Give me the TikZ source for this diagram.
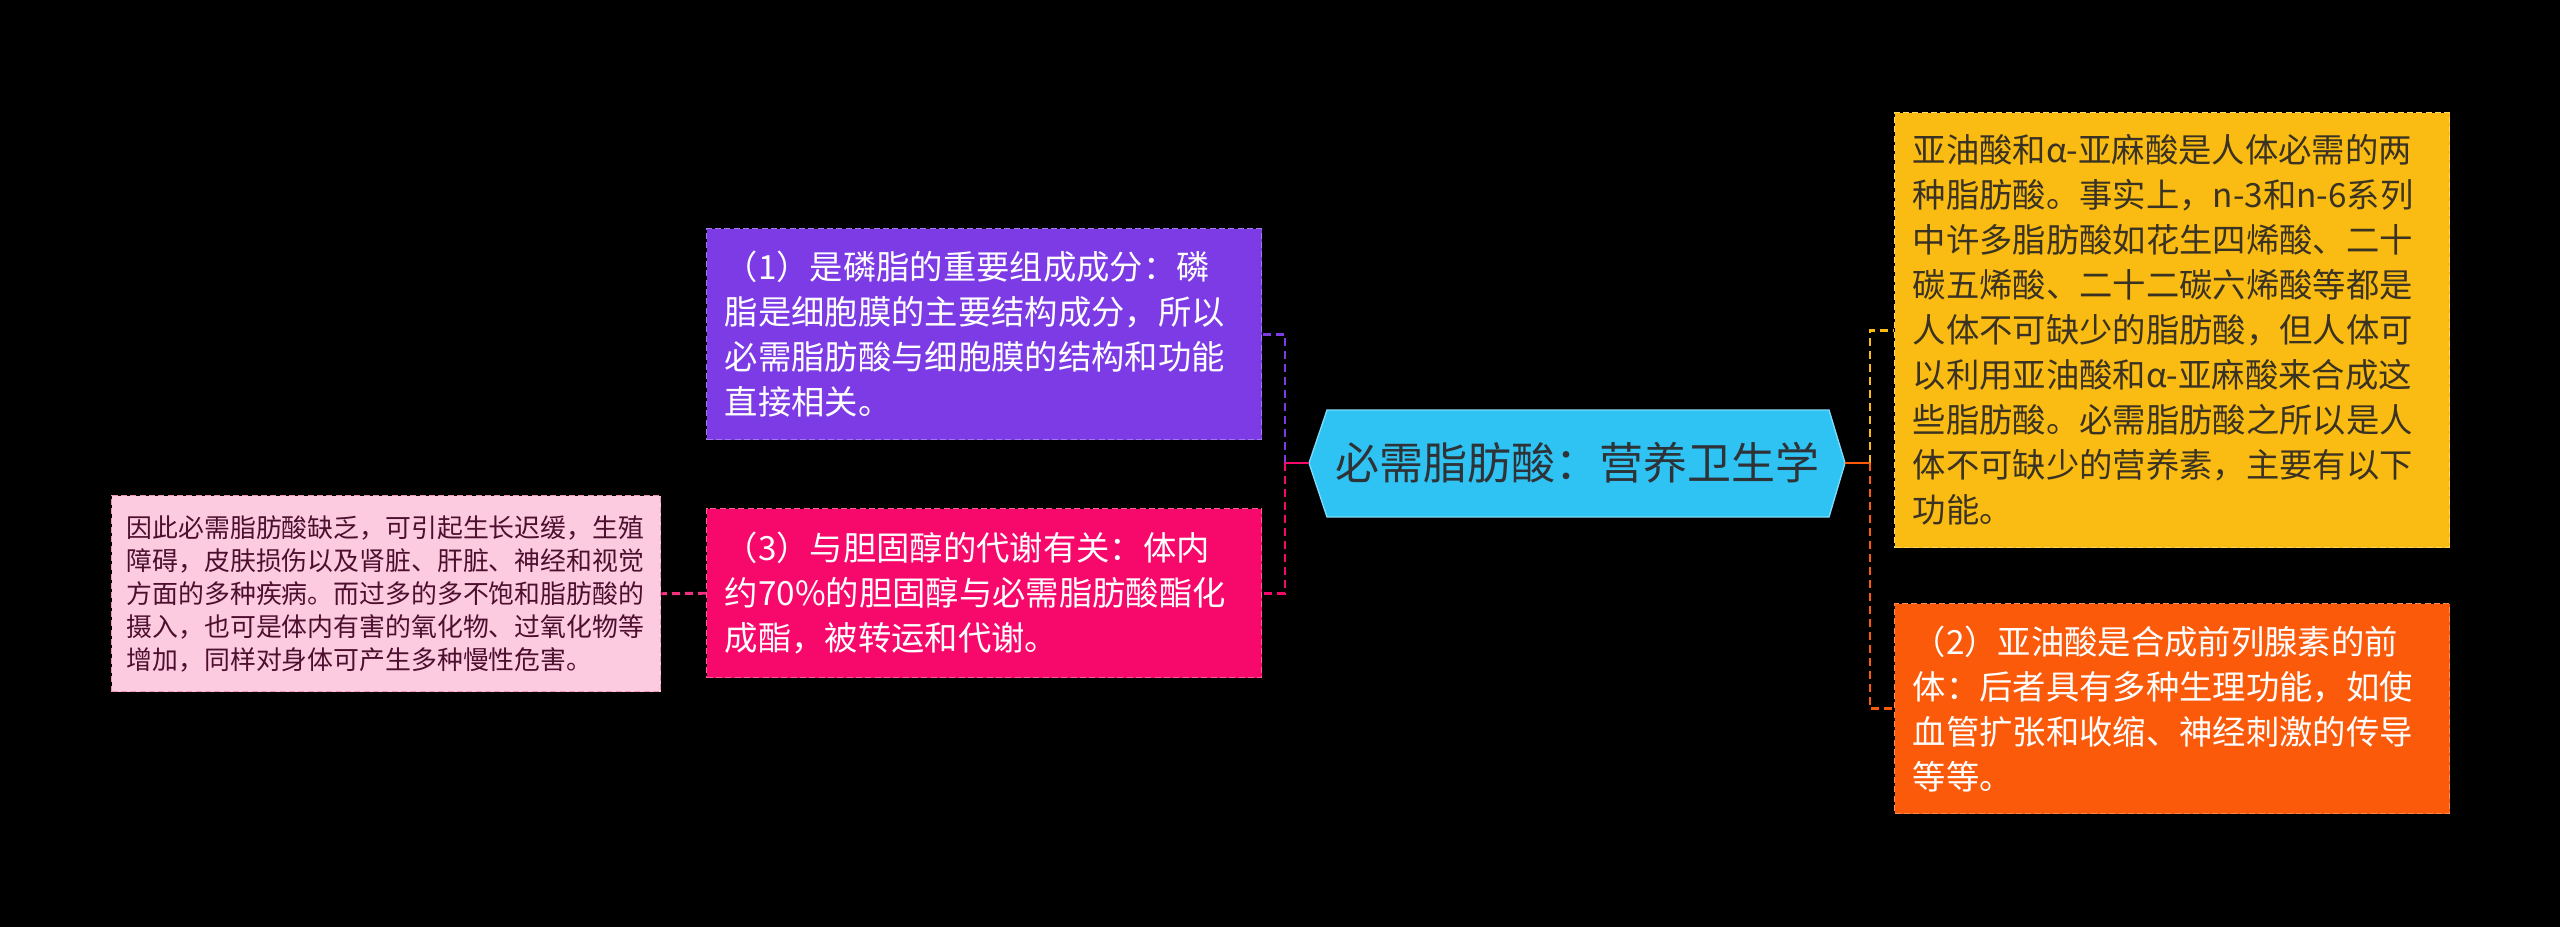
\documentclass[tikz,border=0pt]{standalone}
\usepackage{fontspec}
\setmainfont{Noto Sans CJK SC}
\definecolor{hexc}{HTML}{2EC3F3}
\definecolor{hexb}{HTML}{7FDBF8}
\definecolor{hext}{HTML}{2E3338}
\definecolor{purc}{HTML}{7D3BE6}
\definecolor{purb}{HTML}{A577F0}
\definecolor{pinc}{HTML}{F7096C}
\definecolor{pinb}{HTML}{FF5C98}
\definecolor{yelc}{HTML}{FABC12}
\definecolor{yelb}{HTML}{FFD764}
\definecolor{yelt}{HTML}{3A3222}
\definecolor{orac}{HTML}{FB5A0B}
\definecolor{orab}{HTML}{FF8C55}
\definecolor{lpc}{HTML}{FDCBE0}
\definecolor{lpb}{HTML}{EC94B8}
\definecolor{lpt}{HTML}{4D0F2E}
\definecolor{lpl}{HTML}{F2327E}
\begin{document}
\begin{tikzpicture}[x=0.75pt,y=-0.75pt,
  box/.style={draw, line width=1.1pt, dash pattern=on 4.5pt off 2.5pt,
    anchor=north west, align=left, inner xsep=13.5pt, inner ysep=0pt,
    font=\fontsize{25pt}{33.75pt}\selectfont},
  smallbox/.style={box, inner xsep=11.25pt,
    font=\fontsize{19.4pt}{24.75pt}\selectfont},
  conn/.style={line width=2.2pt, dash pattern=on 6pt off 3.75pt},
  stub/.style={line width=2.2pt}]
\useasboundingbox (0,0) rectangle (2560,927);
\fill[black] (0,0) rectangle (2560,927);

% centre hexagon
\coordinate (hexL) at (1309,463);
\coordinate (hexR) at (1845,463);
\coordinate (jL) at (1285,463);
\coordinate (jR) at (1870,463);
\filldraw[fill=hexc, draw=hexb, line width=1pt]
  (hexL) -- (1327,410) -- (1829,410) -- (hexR) -- (1829,517) -- (1327,517) -- cycle;
\node[text=hext, font=\fontsize{33pt}{40pt}\selectfont, inner sep=0pt] (hex) at (1577,463) {必需脂肪酸：营养卫生学};

% boxes
\node[box, fill=purc, draw=purb, text=white, text width=389.25pt, minimum height=158.25pt] (pur) at (706,228)
{（1）是磷脂的重要组成成分：磷\\脂是细胞膜的主要结构成分，所以\\必需脂肪酸与细胞膜的结构和功能\\直接相关。};

\node[box, fill=pinc, draw=pinb, text=white, text width=389.25pt, minimum height=126.75pt] (pin) at (706,508)
{（3）与胆固醇的代谢有关：体内\\约70\%的胆固醇与必需脂肪酸酯化\\成酯，被转运和代谢。};

\node[smallbox, fill=lpc, draw=lpb, text=lpt, text width=389.25pt, minimum height=147pt] (lp) at (111,495)
{因此必需脂肪酸缺乏，可引起生长迟缓，生殖\\障碍，皮肤损伤以及肾脏、肝脏、神经和视觉\\方面的多种疾病。而过多的多不饱和脂肪酸的\\摄入，也可是体内有害的氧化物、过氧化物等\\增加，同样对身体可产生多种慢性危害。};

\node[box, fill=yelc, draw=yelb, text=yelt, text width=389.25pt, minimum height=326.25pt] (yel) at (1894,112)
{亚油酸和α-亚麻酸是人体必需的两\\种脂肪酸。事实上，n-3和n-6系列\\中许多脂肪酸如花生四烯酸、二十\\碳五烯酸、二十二碳六烯酸等都是\\人体不可缺少的脂肪酸，但人体可\\以利用亚油酸和α-亚麻酸来合成这\\些脂肪酸。必需脂肪酸之所以是人\\体不可缺少的营养素，主要有以下\\功能。};

\node[box, fill=orac, draw=orab, text=white, text width=389.25pt, minimum height=157.5pt] (ora) at (1894,603)
{（2）亚油酸是合成前列腺素的前\\体：后者具有多种生理功能，如使\\血管扩张和收缩、神经刺激的传导\\等等。};

% connectors
\draw[conn, purc] (jL) |- (pur.east);
\draw[conn, pinc] (jL) |- (pin.east);
\draw[stub, pinc] (hexL) -- (jL);
\draw[conn, yelc] (jR) |- (yel.west);
\draw[conn, orac] (jR) |- (ora.west);
\draw[stub, orac] (hexR) -- (jR);
\draw[conn, lpl] (pin.west) -- (lp.east);
\end{tikzpicture}
\end{document}
